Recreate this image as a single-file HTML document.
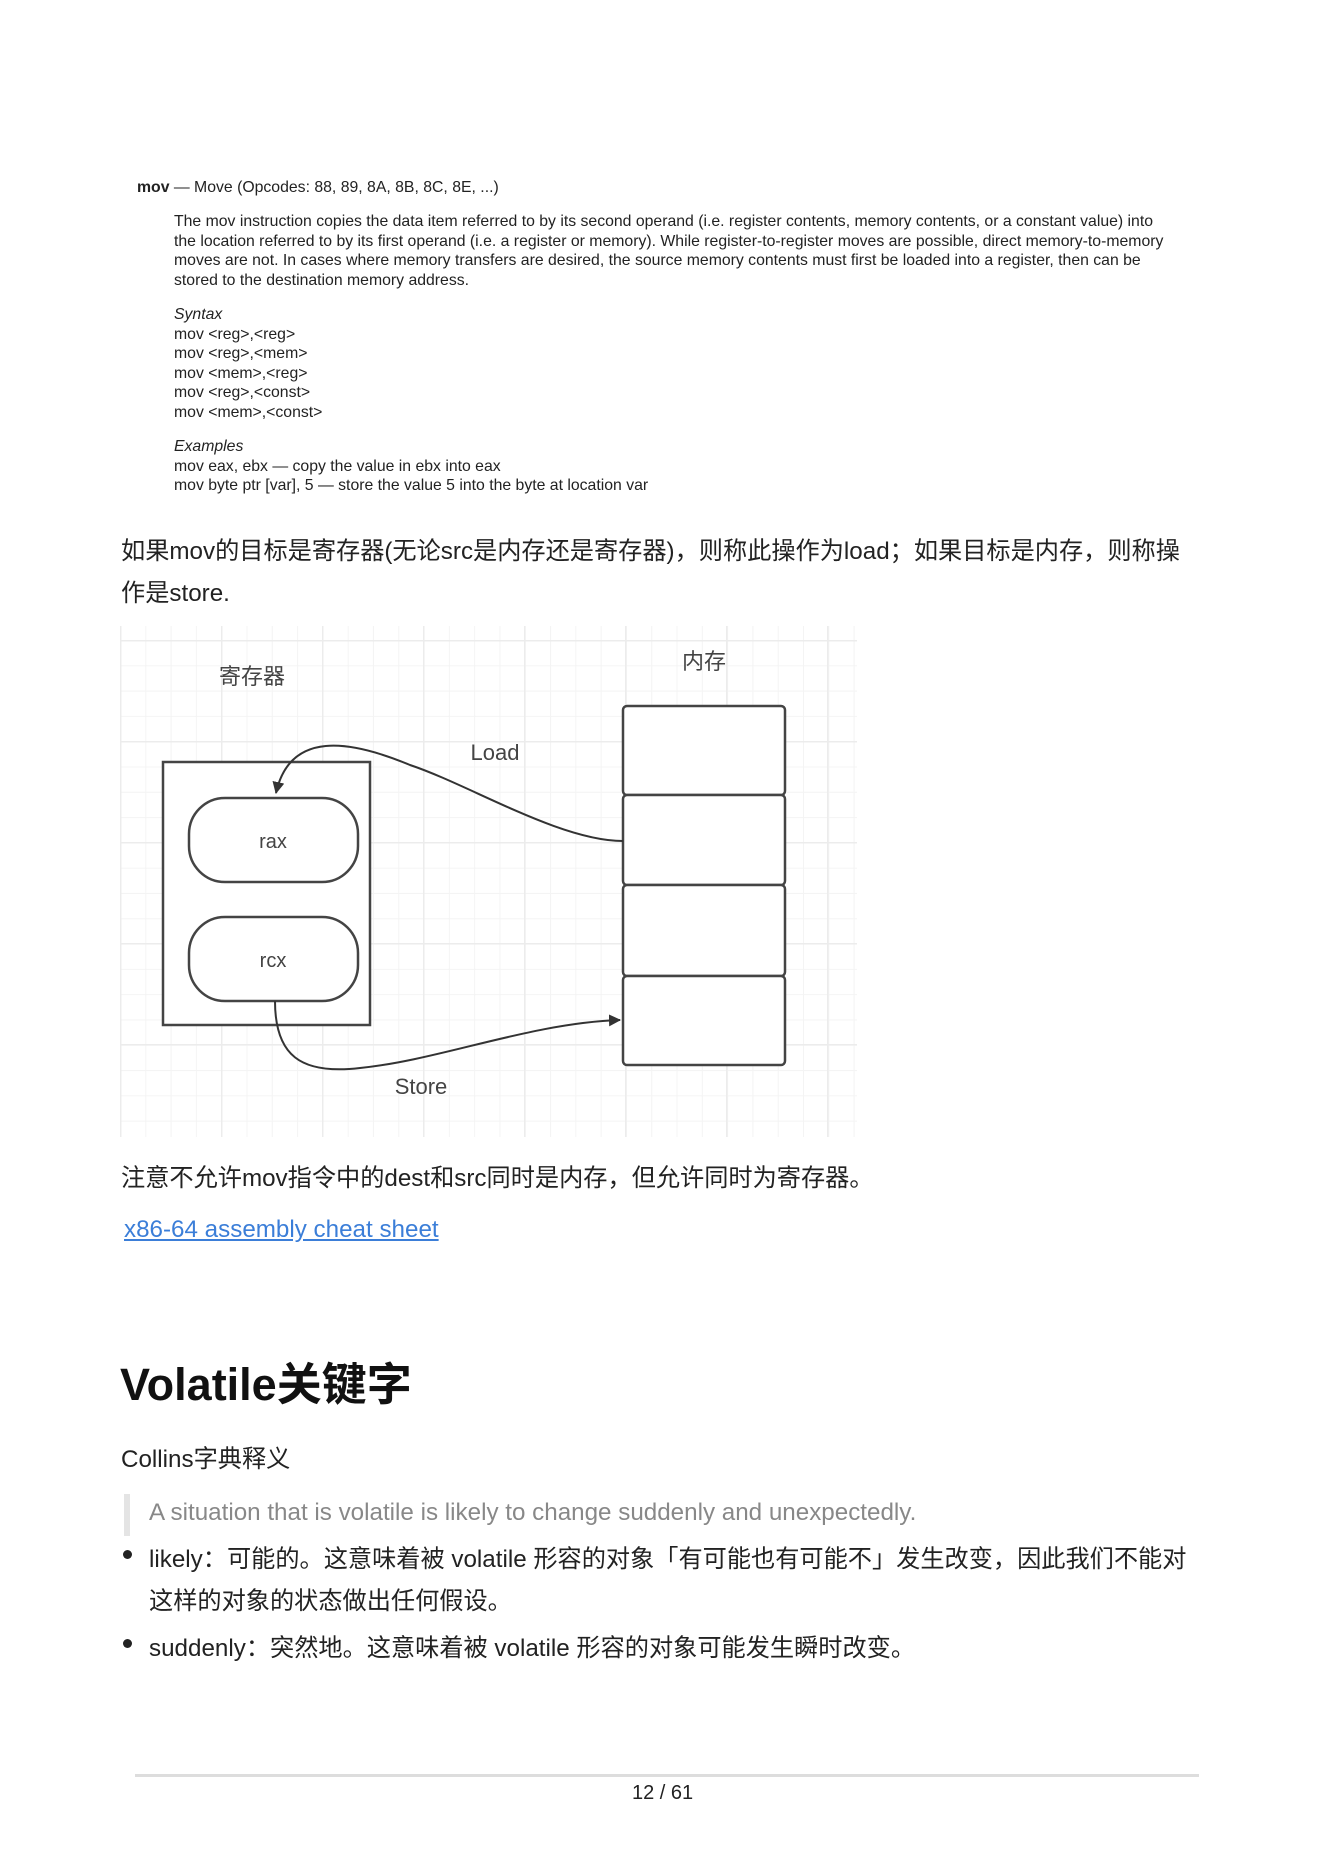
<!DOCTYPE html>
<html><head><meta charset="utf-8"><style>
body{margin:0;width:1322px;height:1871px;background:#fff;position:relative;overflow:hidden;font-family:"Liberation Sans","Noto Sans CJK SC",sans-serif;color:#222}
.a{position:absolute;white-space:nowrap}
.s{font-size:15.8px;color:#222;line-height:19.5px}
.z{font-size:24.2px;color:#222}
</style></head><body>
<div class="a s" style="left:137px;top:178px"><b>mov</b> — Move (Opcodes: 88, 89, 8A, 8B, 8C, 8E, ...)</div>
<div class="a s" style="left:174px;top:212px">The mov instruction copies the data item referred to by its second operand (i.e. register contents, memory contents, or a constant value) into<br>the location referred to by its first operand (i.e. a register or memory). While register-to-register moves are possible, direct memory-to-memory<br>moves are not. In cases where memory transfers are desired, the source memory contents must first be loaded into a register, then can be<br>stored to the destination memory address.</div>
<div class="a s" style="left:174px;top:305px"><i>Syntax</i><br>mov &lt;reg&gt;,&lt;reg&gt;<br>mov &lt;reg&gt;,&lt;mem&gt;<br>mov &lt;mem&gt;,&lt;reg&gt;<br>mov &lt;reg&gt;,&lt;const&gt;<br>mov &lt;mem&gt;,&lt;const&gt;</div>
<div class="a s" style="left:174px;top:437px"><i>Examples</i><br>mov eax, ebx — copy the value in ebx into eax<br>mov byte ptr [var], 5 — store the value 5 into the byte at location var</div>
<div class="a z" style="left:121px;top:531px">如果mov的目标是寄存器(无论src是内存还是寄存器)，则称此操作为load；如果目标是内存，则称操</div>
<div class="a z" style="left:121px;top:573px">作是store.</div>

<div class="a" style="left:120px;top:626px;width:737px;height:511px;background-image:linear-gradient(#ececec 1.5px,transparent 1.5px),linear-gradient(90deg,#ececec 1.5px,transparent 1.5px),linear-gradient(#f4f4f4 1px,transparent 1px),linear-gradient(90deg,#f4f4f4 1px,transparent 1px);background-size:101px 101px,101px 101px,25.3px 25.3px,25.3px 25.3px;background-position:0 14px,0 0,0 14px,0 0"></div>
<svg class="a" style="left:0;top:-5px" width="1322" height="1200">
<defs><marker id="m" markerWidth="12" markerHeight="12" refX="11" refY="6" orient="auto" markerUnits="userSpaceOnUse"><path d="M0,0 L12,6 L0,12 z" fill="#333"/></marker></defs>
<g stroke="#444" stroke-width="2.5" fill="#fff">
<rect x="163" y="767" width="207" height="263"/>
<rect x="189" y="803" width="169" height="84" rx="36"/>
<rect x="189" y="922" width="169" height="84" rx="36"/>
<rect x="623" y="711" width="162" height="89" rx="4"/>
<rect x="623" y="800" width="162" height="90" rx="4"/>
<rect x="623" y="890" width="162" height="91" rx="4"/>
<rect x="623" y="981" width="162" height="89" rx="4"/>
</g>
<g stroke="#333" stroke-width="2" fill="none">
<path d="M623,846 C560,846 470,790 410,770 C350,745 290,735 276,798" marker-end="url(#m)"/>
<path d="M275,1006 C275,1060 300,1080 360,1073 C440,1065 530,1028 620,1025" marker-end="url(#m)"/>
</g>
<g font-family="Liberation Sans,Noto Sans CJK SC,sans-serif" font-size="22" fill="#444" text-anchor="middle">
<text x="252" y="689">寄存器</text><text x="704" y="674">内存</text>
<text x="495" y="765">Load</text><text x="421" y="1099">Store</text>
<text x="273" y="853" font-size="20">rax</text><text x="273" y="972" font-size="20">rcx</text>
</g>
</svg>

<div class="a z" style="left:121px;top:1158px">注意不允许mov指令中的dest和src同时是内存，但允许同时为寄存器。</div>
<div class="a z" style="left:124px;top:1216px;color:#3b7ed8;text-decoration:underline">x86-64 assembly cheat sheet</div>
<div class="a" style="left:120px;top:1348px;font-size:45px;font-weight:bold;color:#111">Volatile关键字</div>
<div class="a z" style="left:121px;top:1439px">Collins字典释义</div>
<div class="a" style="left:124px;top:1494px;width:6px;height:42px;background:#e4e4e4"></div>
<div class="a z" style="left:149px;top:1499px;color:#888">A situation that is volatile is likely to change suddenly and unexpectedly.</div>
<div class="a" style="left:123px;top:1550px;width:9px;height:9px;border-radius:50%;background:#222"></div>
<div class="a z" style="left:149px;top:1539px">likely：可能的。这意味着被 volatile 形容的对象「有可能也有可能不」发生改变，因此我们不能对</div>
<div class="a z" style="left:149px;top:1581px">这样的对象的状态做出任何假设。</div>
<div class="a" style="left:123px;top:1639px;width:9px;height:9px;border-radius:50%;background:#222"></div>
<div class="a z" style="left:149px;top:1628px">suddenly：突然地。这意味着被 volatile 形容的对象可能发生瞬时改变。</div>
<div class="a" style="left:135px;top:1774px;width:1064px;height:3px;background:#ddd"></div>
<div class="a" style="left:632px;top:1782px;font-size:20px;color:#222">12 / 61</div>
</body></html>
